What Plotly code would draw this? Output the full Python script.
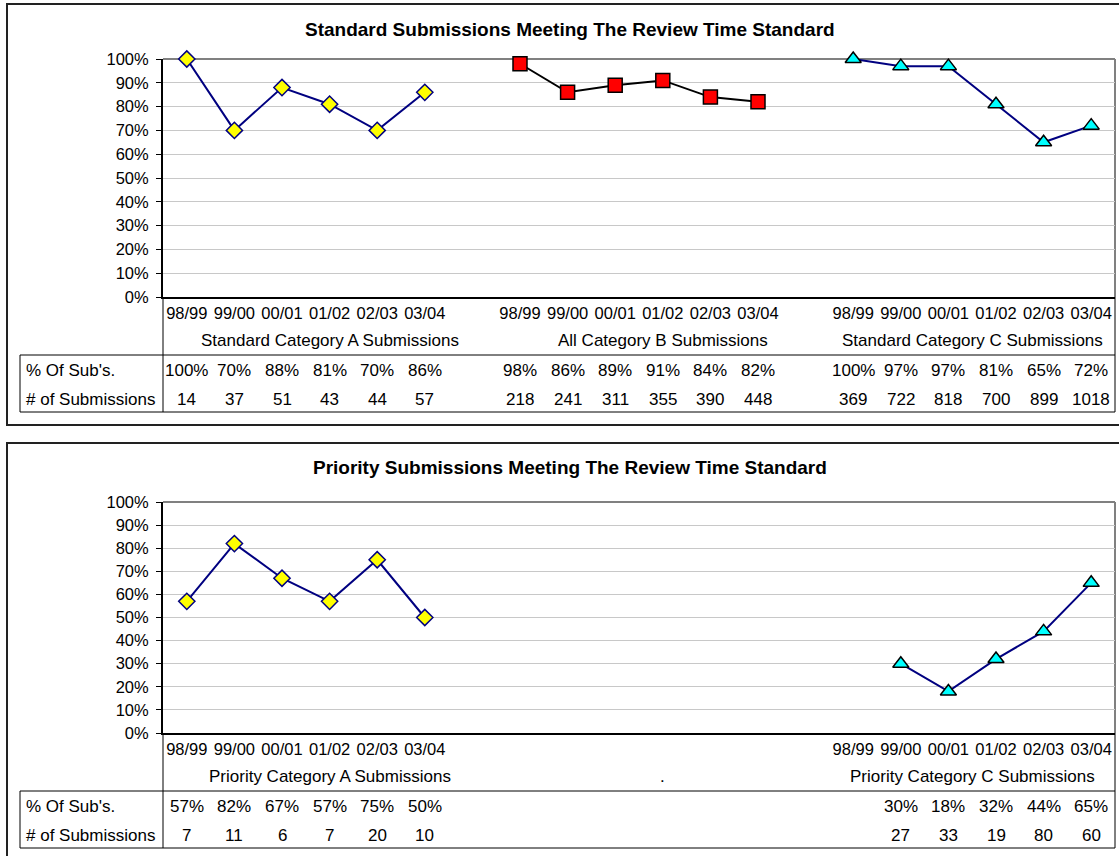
import plotly.graph_objects as go

W, H = 1119, 856

periods = ["98/99", "99/00", "00/01", "01/02", "02/03", "03/04"]

std_groups = ["Standard Category A Submissions", "All Category B Submissions",
              "Standard Category C Submissions"]
std_a_pct = [100, 70, 88, 81, 70, 86]
std_a_n = [14, 37, 51, 43, 44, 57]
std_b_pct = [98, 86, 89, 91, 84, 82]
std_b_n = [218, 241, 311, 355, 390, 448]
std_c_pct = [100, 97, 97, 81, 65, 72]
std_c_n = [369, 722, 818, 700, 899, 1018]

pri_groups = ["Priority Category A Submissions", ".", "Priority Category C Submissions"]
pri_a_pct = [57, 82, 67, 57, 75, 50]
pri_a_n = [7, 11, 6, 7, 20, 10]
pri_b_pct = [None] * 6
pri_b_n = [None] * 6
pri_c_pct = [None, 30, 18, 32, 44, 65]
pri_c_n = [None, 27, 33, 19, 80, 60]

row_labels = ["% Of Sub's.", "# of Submissions"]
titles = ["Standard Submissions Meeting The Review Time Standard",
          "Priority Submissions Meeting The Review Time Standard"]

FONT = "Liberation Sans, Arial, sans-serif"
FS = 17
FS_TICK = 16.5

# each group spans its 6 periods plus the blank separator category (last group: 6)
group_span = [7, 7, 6]


def px(x):
    return x / W


def py(y):
    return 1 - y / H


styles = [
    dict(symbol="diamond", size=12.5, color="#FFFF00", lc="#000080", mlc="#000080"),
    dict(symbol="square", size=14, color="#FF0000", lc="#000000", mlc="#000000"),
    dict(symbol="triangle-up", size=14, color="#00FFFF", lc="#000080", mlc="#000000"),
]

charts = [
    dict(groups=std_groups, pct=[std_a_pct, std_b_pct, std_c_pct],
         n=[std_a_n, std_b_n, std_c_n], show=[True, True, True],
         box=(4, 425), plot=(59, 297), title_y=30, cat_y=311, grp_y=340,
         tab_top=355, row1=371, row2=399, tab_bot=412),
    dict(groups=pri_groups, pct=[pri_a_pct, pri_b_pct, pri_c_pct],
         n=[pri_a_n, pri_b_n, pri_c_n], show=[True, False, True],
         box=(443, 870), plot=(502, 733), title_y=467, cat_y=747, grp_y=776,
         tab_top=791, row1=806, row2=835, tab_bot=848),
]

PL, PR = 163, 1115
TL = 20

fig = go.Figure()
shapes = []
annotations = []

for ci, ch in enumerate(charts):
    xa = "x" if ci == 0 else "x2"
    ya = "y" if ci == 0 else "y2"
    tickvals, ticktext = [], []
    for g in range(3):
        xs = [g * 7 + i for i in range(6)]
        if ch["show"][g]:
            tickvals += xs
            ticktext += periods
        st = styles[g]
        ys = [None if v is None else v / 100 for v in ch["pct"][g]]
        if any(v is not None for v in ys):
            fig.add_trace(go.Scatter(
                x=xs, y=ys, xaxis=xa, yaxis=ya, mode="lines+markers",
                line=dict(color=st["lc"], width=2),
                marker=dict(symbol=st["symbol"], size=st["size"], color=st["color"],
                            line=dict(color=st["mlc"], width=1.5)),
                connectgaps=False, showlegend=False, hoverinfo="skip", cliponaxis=False))
        # group label, centred on the group's span of categories
        annotations.append(dict(x=g * 7 + (group_span[g] - 1) / 2, xref=xa,
                                y=py(ch["grp_y"]), yref="paper",
                                text=ch["groups"][g], showarrow=False,
                                font=dict(family=FONT, size=FS, color="#000"),
                                xanchor="center", yanchor="middle"))
        for i in range(6):
            pv = ch["pct"][g][i]
            nv = ch["n"][g][i]
            if pv is not None:
                annotations.append(dict(x=g * 7 + i, xref=xa, y=py(ch["row1"]), yref="paper",
                                        text=f"{pv}%", showarrow=False,
                                        font=dict(family=FONT, size=FS, color="#000"),
                                        xanchor="center", yanchor="middle"))
            if nv is not None:
                annotations.append(dict(x=g * 7 + i, xref=xa, y=py(ch["row2"]), yref="paper",
                                        text=str(nv), showarrow=False,
                                        font=dict(family=FONT, size=FS, color="#000"),
                                        xanchor="center", yanchor="middle"))
    # row labels
    for rl, ry in zip(row_labels, [ch["row1"], ch["row2"]]):
        annotations.append(dict(x=px(TL + 4), xref="paper", y=py(ry), yref="paper",
                                text=rl, showarrow=False,
                                font=dict(family=FONT, size=FS, color="#000"),
                                xanchor="left", yanchor="middle"))
    # title
    annotations.append(dict(x=px(570), xref="paper", y=py(ch["title_y"]), yref="paper",
                            text=f"<b>{titles[ci]}</b>", showarrow=False,
                            font=dict(family=FONT, size=19, color="#000"),
                            xanchor="center", yanchor="middle"))

    dom_y = [py(ch["plot"][1]), py(ch["plot"][0])]
    axis_x = dict(domain=[px(PL), px(PR)], range=[-0.5, 19.5], tickmode="array",
                  tickvals=tickvals, ticktext=ticktext, showgrid=False, zeroline=False,
                  showline=True, linecolor="#000", linewidth=2, ticks="",
                  ticklabelstandoff=0, automargin=False,
                  tickfont=dict(family=FONT, size=FS_TICK, color="#000"), anchor=ya)
    axis_y = dict(domain=dom_y, range=[0, 1], tickmode="linear", tick0=0, dtick=0.1,
                  tickformat=".0%", showgrid=True, gridcolor="#C8C8C8", gridwidth=1,
                  zeroline=False, showline=True, linecolor="#000", linewidth=2,
                  ticks="outside", ticklen=5, tickcolor="#000", tickwidth=1,
                  ticklabelstandoff=4, automargin=False,
                  tickfont=dict(family=FONT, size=FS_TICK, color="#000"), anchor=xa)
    if ci == 0:
        fig.update_layout(xaxis=axis_x, yaxis=axis_y)
    else:
        fig.update_layout(xaxis2=axis_x, yaxis2=axis_y)

    # outer chart box
    shapes.append(dict(type="rect", xref="paper", yref="paper",
                       x0=px(7), x1=px(1130), y0=py(ch["box"][1]), y1=py(ch["box"][0]),
                       line=dict(color="#222", width=2), fillcolor="rgba(0,0,0,0)", layer="below"))
    # plot area top and right border (gray)
    shapes.append(dict(type="line", xref="paper", yref="paper",
                       x0=px(PL), x1=px(PR), y0=py(ch["plot"][0]), y1=py(ch["plot"][0]),
                       line=dict(color="#808080", width=2), layer="below"))
    shapes.append(dict(type="line", xref="paper", yref="paper",
                       x0=px(PR), x1=px(PR), y0=py(ch["plot"][0]), y1=py(ch["plot"][1]),
                       line=dict(color="#808080", width=2), layer="below"))
    # data table lines
    line_k = dict(color="#000", width=1)
    shapes.append(dict(type="line", xref="paper", yref="paper",
                       x0=px(PR), x1=px(PR), y0=py(ch["plot"][1]), y1=py(ch["tab_bot"]), line=line_k))
    shapes.append(dict(type="line", xref="paper", yref="paper",
                       x0=px(PL), x1=px(PL), y0=py(ch["plot"][1]), y1=py(ch["tab_bot"]), line=line_k))
    shapes.append(dict(type="line", xref="paper", yref="paper",
                       x0=px(TL), x1=px(PR), y0=py(ch["tab_top"]), y1=py(ch["tab_top"]), line=line_k))
    shapes.append(dict(type="line", xref="paper", yref="paper",
                       x0=px(TL), x1=px(PR), y0=py(ch["tab_bot"]), y1=py(ch["tab_bot"]), line=line_k))
    shapes.append(dict(type="line", xref="paper", yref="paper",
                       x0=px(TL), x1=px(TL), y0=py(ch["tab_top"]), y1=py(ch["tab_bot"]), line=line_k))

fig.update_layout(width=W, height=H, margin=dict(l=0, r=0, t=0, b=0, autoexpand=False),
                  paper_bgcolor="#FFFFFF", plot_bgcolor="#FFFFFF",
                  shapes=shapes, annotations=annotations, showlegend=False,
                  font=dict(family=FONT, size=FS, color="#000"))

fig.write_html("out.html", config={"displayModeBar": False},
               post_script="document.body.style.margin='0';document.body.style.padding='0';"
                           "document.documentElement.style.overflow='hidden';")
